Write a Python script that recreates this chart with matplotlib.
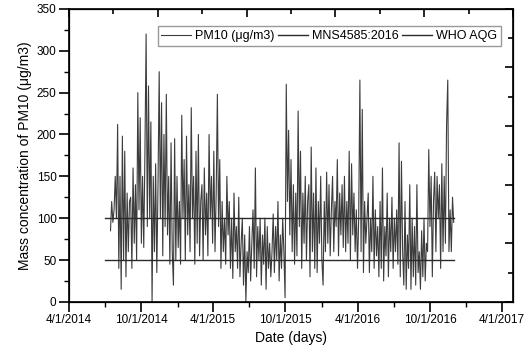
import matplotlib
matplotlib.use('Agg')
import matplotlib.pyplot as plt
import matplotlib.dates as mdates
from matplotlib.ticker import MultipleLocator
import pandas as pd

plt.rcParams['font.family'] = ['Liberation Sans', 'DejaVu Sans']

# === Data (~3 day resolution) ===
pm10 = [
    85, 120, 95, 110, 150, 100, 212,                 # Jul 2014
    40, 150, 15, 198, 50, 180, 30, 130, 60, 120,     # Aug
    125, 40, 160, 70, 140, 50, 250, 110, 220, 70,    # Sep
    150, 65, 180, 320, 90, 258, 100, 215, 0, 150,    # Oct
    60, 165, 35, 140, 275, 100, 238, 55, 200, 90,    # Nov
    248, 80, 150, 45, 190, 60, 20, 195, 50, 150,     # Dec
    65, 120, 45, 223, 100, 170, 50, 198, 80, 140,    # Jan 2015
    60, 232, 100, 150, 45, 180, 70, 200, 55, 120,    # Feb
    140, 50, 160, 80, 130, 55, 200, 100, 150, 70,    # Mar
    180, 60, 130, 248, 90, 170, 40, 120, 60, 100,    # Apr
    45, 150, 80, 120, 40, 100, 28, 130, 60, 90,      # May
    40, 125, 30, 70, 100, 20, 80, 0, 60, 35,         # Jun
    90, 25, 70, 110, 40, 160, 30, 90, 50, 100,       # Jul
    20, 80, 45, 100, 15, 90, 40, 70, 30, 60,         # Aug
    105, 35, 90, 50, 120, 25, 80, 40, 100, 60,       # Sep
    5, 260, 120, 205, 80, 170, 60, 140, 45, 130,     # Oct
    55, 228, 90, 180, 40, 130, 70, 150, 50, 120,     # Nov
    140, 30, 185, 60, 130, 40, 160, 35, 120, 70,     # Dec
    150, 50, 20, 120, 60, 155, 70, 140, 55, 110,     # Jan 2016
    150, 60, 120, 90, 170, 55, 130, 80, 140, 65,     # Feb
    150, 60, 120, 70, 180, 50, 165, 80, 130, 60,     # Mar
    110, 40, 100, 265, 60, 230, 35, 120, 70, 100,    # Apr
    130, 35, 100, 60, 150, 40, 110, 55, 90, 30,      # May
    120, 40, 160, 25, 90, 55, 130, 30, 100, 60,      # Jun
    125, 40, 100, 60, 110, 45, 190, 30, 168, 60,     # Jul
    20, 120, 15, 80, 40, 140, 15, 100, 30, 90,       # Aug
    20, 140, 35, 60, 15, 85, 30, 100, 25, 70,        # Sep
    60, 182, 90, 150, 30, 120, 155, 60, 150, 100,    # Oct
    140, 40, 165, 60, 150, 70, 212, 265, 60, 110,    # Nov
    60, 125, 95,
]
dates = pd.date_range('2014-07-15', '2016-11-30', periods=len(pm10))

std_dates = pd.to_datetime(['2014-07-01', '2016-12-01'])
mns4585 = [100, 100]
who_aqg = [50, 50]

# === Plot ===
fig = plt.figure(figsize=(5.31, 3.56), dpi=100)
ax = fig.add_axes([0.130, 0.152, 0.836, 0.823])

ax.plot(dates, pm10, color='#3c3c3c', lw=0.8, label='PM10 (\u03bcg/m3)')
ax.plot(std_dates, mns4585, color='#2a2a2a', lw=1.0, label='MNS4585:2016')
ax.plot(std_dates, who_aqg, color='#2a2a2a', lw=1.0, label='WHO AQG')

ax.set_xlim(pd.Timestamp('2014-04-01'), pd.Timestamp('2017-04-29'))
ax.set_ylim(0, 350)
ax.xaxis.set_major_locator(mdates.MonthLocator(bymonth=[4, 10], bymonthday=1))
ax.xaxis.set_minor_locator(mdates.MonthLocator(bymonth=[1, 7], bymonthday=1))
ax.xaxis.set_major_formatter(
    plt.FuncFormatter(lambda v, p: '{d.month}/{d.day}/{d.year}'.format(d=mdates.num2date(v))))
ax.yaxis.set_major_locator(MultipleLocator(50))
ax.yaxis.set_minor_locator(MultipleLocator(25))
ax.tick_params(which='major', direction='out', length=7, width=1.2, labelsize=8.5, pad=2)
ax.tick_params(which='minor', direction='out', length=3.5, width=1.0)
for s in ax.spines.values():
    s.set_linewidth(1.2)

ax.set_xlabel('Date (days)', fontsize=10, labelpad=3)
ax.set_ylabel('Mass concentration of PM10 (\u03bcg/m3)', fontsize=10, labelpad=3)

# top / right axes (unlabelled, own 0-5 scale)
axt = ax.twiny()
axt.set_xlim(0, 5)
axt.xaxis.set_major_locator(MultipleLocator(1))
axt.xaxis.set_minor_locator(MultipleLocator(0.5))
axt.tick_params(which='both', direction='in', labeltop=False, width=1.2)
axt.tick_params(which='major', length=6)
axt.tick_params(which='minor', length=3.5)
axr = ax.twinx()
axr.set_ylim(0, 5)
axr.yaxis.set_major_locator(MultipleLocator(1))
axr.yaxis.set_minor_locator(MultipleLocator(0.5))
axr.tick_params(which='both', direction='in', labelright=False, width=1.2)
axr.tick_params(which='major', length=6)
axr.tick_params(which='minor', length=3.5)

leg = ax.legend(loc='upper right', bbox_to_anchor=(0.973, 0.94), ncol=3, fontsize=9,
                frameon=True, fancybox=False, edgecolor='#999999', framealpha=1,
                handlelength=2.4, handletextpad=0.3, columnspacing=0.3,
                borderpad=0.3, borderaxespad=0)
leg.get_frame().set_linewidth(1.0)

fig.savefig('out.png', dpi=100)
